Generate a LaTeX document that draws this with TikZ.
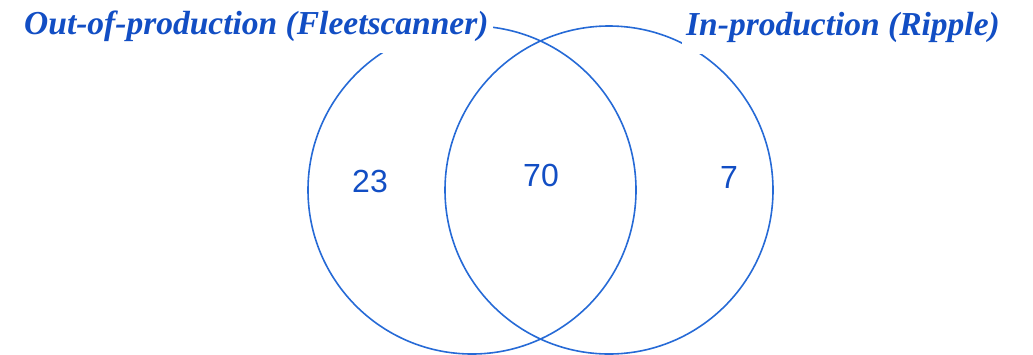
\documentclass[tikz,border=0pt]{standalone}
\usepackage{fontspec}
\setmainfont{Liberation Serif}
\newfontfamily\numfont{Liberation Sans}
\usepackage{xcolor}
\usetikzlibrary{positioning}
\definecolor{vennblue}{RGB}{18,78,196}
\definecolor{lineblue}{RGB}{38,106,214}

\begin{document}
\begin{tikzpicture}[x=1pt,y=-1pt]
\tikzstyle{set}=[circle,draw=lineblue,line width=1.6pt,minimum size=328pt,inner sep=0pt]
\tikzstyle{title}=[text=vennblue,fill=white,inner xsep=4pt,inner ysep=12pt,anchor=base west,font=\fontsize{33.5}{38}\selectfont\bfseries\itshape]
\tikzstyle{count}=[text=vennblue,font=\numfont\fontsize{32}{38}\selectfont]
\useasboundingbox (0,0) rectangle (1033,354);
% the two sets
\node[set] (fleet) at (472,190) {};
\node[set] (ripple) at (609,190) {};
% set titles (white box hides the circle behind them)
\node[title] (fleettitle) at (20,34) {Out-of-production (Fleetscanner)};
\node[title] (rippletitle) at (682,35) {In-production (Ripple)};
% counts
\node[count] (onlyfleet) at (370,181) {23};
\node[count] (both) at (541,175) {70};
\node[count] (onlyripple) at (729,177) {7};
\end{tikzpicture}
\end{document}
